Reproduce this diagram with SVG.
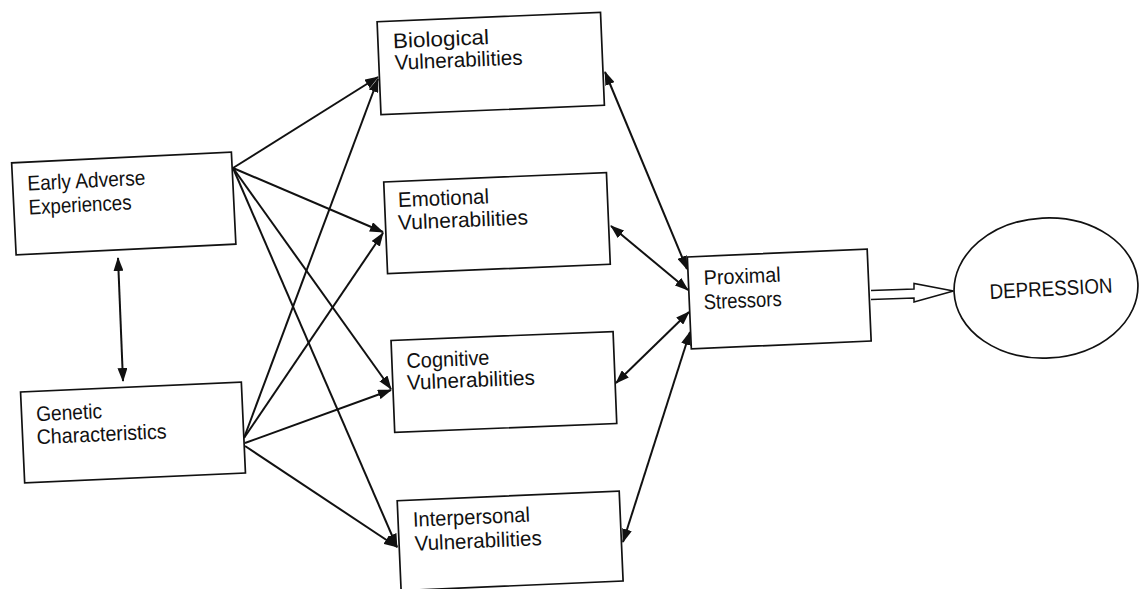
<svg xmlns="http://www.w3.org/2000/svg" width="1142" height="589" viewBox="0 0 1142 589">
<style>
.box{fill:#fff;stroke:#111;stroke-width:1.7}
.lbl{font-family:"Liberation Sans",Arial,sans-serif;font-size:21px;fill:#111}
.con{fill:none;stroke:#111;stroke-width:2}
.one{marker-end:url(#ah)}
.two{marker-start:url(#ah);marker-end:url(#ah)}
</style>
<defs>
<marker id="ah" viewBox="0 0 14 10" refX="13" refY="5" markerWidth="14" markerHeight="10" markerUnits="userSpaceOnUse" orient="auto-start-reverse">
<path d="M0,0 L14,5 L0,10 z" fill="#111"/>
</marker>
</defs>
<rect width="1142" height="589" fill="#fff"/>
<g id="connectors">
<line class="con one" x1="233" y1="168" x2="378" y2="77"/>
<line class="con one" x1="233" y1="168" x2="383" y2="232"/>
<line class="con one" x1="233" y1="168" x2="391" y2="389"/>
<line class="con one" x1="233" y1="168" x2="397" y2="547"/>
<line class="con one" x1="244" y1="438" x2="378" y2="79"/>
<line class="con one" x1="244" y1="438" x2="383" y2="233"/>
<line class="con one" x1="245" y1="443" x2="391" y2="390"/>
<line class="con one" x1="245" y1="446" x2="397" y2="547"/>
<line class="con two" x1="605" y1="72" x2="687" y2="269"/>
<line class="con two" x1="611" y1="226" x2="688" y2="290"/>
<line class="con two" x1="616" y1="383" x2="689" y2="312"/>
<line class="con two" x1="623" y1="542" x2="690" y2="332"/>
<line class="con two" x1="118" y1="258" x2="123" y2="381"/>
<path d="M871,290.5 L914,289 L914,283.5 L953.5,291 L914,302 L914,298 L871,299.5" fill="#fff" stroke="#111" stroke-width="1.5" stroke-linejoin="miter"/>
</g>
<g id="early" transform="rotate(-2.8 123.75 203.5)">
<rect class="box" x="13.75" y="157.5" width="220" height="92"/>
<text class="lbl" x="28.5" y="185.9" textLength="118" lengthAdjust="spacingAndGlyphs">Early Adverse</text>
<text class="lbl" x="28.5" y="209.8" textLength="103" lengthAdjust="spacingAndGlyphs">Experiences</text>
</g>
<g id="genetic" transform="rotate(-2.6 133 432.5)">
<rect class="box" x="22.5" y="387" width="221" height="91"/>
<text class="lbl" x="37" y="416.8" textLength="66" lengthAdjust="spacingAndGlyphs">Genetic</text>
<text class="lbl" x="36.5" y="439.8" textLength="130" lengthAdjust="spacingAndGlyphs">Characteristics</text>
</g>
<g id="biological" transform="rotate(-2.4 490.75 63.5)">
<rect class="box" x="378.95" y="17" width="223.6" height="93"/>
<text class="lbl" x="394.1" y="44.1" textLength="96" lengthAdjust="spacingAndGlyphs">Biological</text>
<text class="lbl" x="394.8" y="65.8" textLength="128" lengthAdjust="spacingAndGlyphs">Vulnerabilities</text>
</g>
<g id="emotional" transform="rotate(-2.4 497 223.1)">
<rect class="box" x="385.55" y="177.25" width="222.9" height="91.7"/>
<text class="lbl" x="399.1" y="203" textLength="91" lengthAdjust="spacingAndGlyphs">Emotional</text>
<text class="lbl" x="398.1" y="225.7" textLength="130" lengthAdjust="spacingAndGlyphs">Vulnerabilities</text>
</g>
<g id="cognitive" transform="rotate(-2.3 503.9 381.95)">
<rect class="box" x="392.8" y="335.95" width="222.2" height="92"/>
<text class="lbl" x="407.4" y="364.1" textLength="83" lengthAdjust="spacingAndGlyphs">Cognitive</text>
<text class="lbl" x="407" y="385.8" textLength="128" lengthAdjust="spacingAndGlyphs">Vulnerabilities</text>
</g>
<g id="interpersonal" transform="rotate(-2.5 510.15 540.85)">
<rect class="box" x="399.05" y="495.85" width="222.2" height="90"/>
<text class="lbl" x="414" y="522.5" textLength="117" lengthAdjust="spacingAndGlyphs">Interpersonal</text>
<text class="lbl" x="414.7" y="546.5" textLength="127" lengthAdjust="spacingAndGlyphs">Vulnerabilities</text>
</g>
<g id="proximal" transform="rotate(-2.5 779.25 299)">
<rect class="box" x="689.25" y="253" width="180" height="92"/>
<text class="lbl" x="704.7" y="281.7" textLength="77" lengthAdjust="spacingAndGlyphs">Proximal</text>
<text class="lbl" x="703.6" y="306" textLength="78" lengthAdjust="spacingAndGlyphs">Stressors</text>
</g>
<g id="depression" transform="rotate(-3 1046 288)">
<ellipse class="box" cx="1046" cy="288" rx="92" ry="70"/>
<text class="lbl" x="989.5" y="296" textLength="123" lengthAdjust="spacingAndGlyphs">DEPRESSION</text>
</g>
</svg>
